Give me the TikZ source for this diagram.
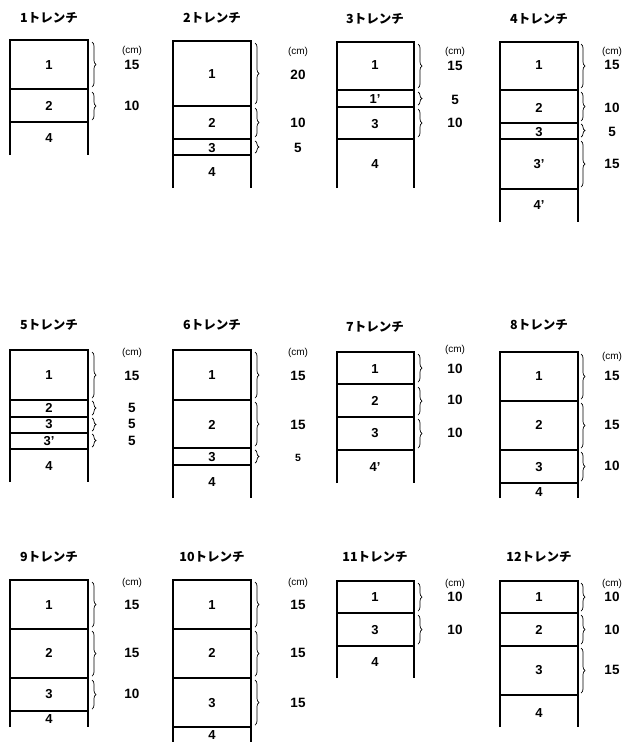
\documentclass[tikz,border=0pt]{standalone}
\usepackage{fontspec}
\setmainfont{Liberation Sans}
\newfontfamily\jpfont{Noto Sans CJK JP}
\usetikzlibrary{decorations.pathreplacing}
\tikzset{
  wall/.style={line width=1.5pt},
  lay/.style={font=\fontsize{13}{14}\selectfont\bfseries, inner sep=0pt},
  val/.style={font=\fontsize{13.5}{14}\selectfont\bfseries, inner sep=0pt},
  smallval/.style={font=\fontsize{10.5}{11}\selectfont\bfseries, inner sep=0pt},
  unit/.style={font=\fontsize{10}{11}\selectfont, inner sep=0pt},
  ttl/.style={font=\jpfont\fontsize{12.5}{13}\selectfont\bfseries, inner sep=0pt},
  br/.style={decorate, decoration={brace, amplitude=4pt}, line width=0.7pt}
}
\begin{document}
\begin{tikzpicture}[x=1pt,y=-1pt]
\useasboundingbox (0,0) rectangle (624,742);
% Trench 1
\node[ttl] (t1) at (49,18) {1トレンチ};
\draw[wall] (10,155) -- (10,40) -- (88,40) -- (88,155);
\foreach \y in {89,122} \draw[wall] (10,\y) -- (88,\y);
\foreach \y/\t [count=\i] in {65/1,106/2,138/4} \node[lay] (t1l\i) at (49,\y) {\t};
\foreach \a/\b in {42/87,92/120} \draw[br] (92,\a) -- (92,\b);
\node[unit] (t1u) at (132,51) {(cm)};
\foreach \y/\t [count=\i] in {65/15,106/10} \node[val] (t1v\i) at (132,\y) {\t};
% Trench 2
\node[ttl] (t2) at (212,18) {2トレンチ};
\draw[wall] (173,188) -- (173,41) -- (251,41) -- (251,188);
\foreach \y in {106,139,155} \draw[wall] (173,\y) -- (251,\y);
\foreach \y/\t [count=\i] in {74/1,123/2,148/3,172/4} \node[lay] (t2l\i) at (212,\y) {\t};
\foreach \a/\b in {43/104,108/137,141/153} \draw[br] (255,\a) -- (255,\b);
\node[unit] (t2u) at (298,52) {(cm)};
\foreach \y/\t [count=\i] in {75/20,123/10,148/5} \node[val] (t2v\i) at (298,\y) {\t};
% Trench 3
\node[ttl] (t3) at (375,19) {3トレンチ};
\draw[wall] (337,188) -- (337,42) -- (414,42) -- (414,188);
\foreach \y in {90,107,139} \draw[wall] (337,\y) -- (414,\y);
\foreach \y/\t [count=\i] in {65/1,99/1',124/3,164/4} \node[lay] (t3l\i) at (375,\y) {\t};
\foreach \a/\b in {44/88,92/105,109/137} \draw[br] (418,\a) -- (418,\b);
\node[unit] (t3u) at (455,52) {(cm)};
\foreach \y/\t [count=\i] in {66/15,100/5,123/10} \node[val] (t3v\i) at (455,\y) {\t};
% Trench 4
\node[ttl] (t4) at (539,19) {4トレンチ};
\draw[wall] (500,222) -- (500,42) -- (578,42) -- (578,222);
\foreach \y in {90,123,139,189} \draw[wall] (500,\y) -- (578,\y);
\foreach \y/\t [count=\i] in {65/1,108/2,132/3,164/3',205/4'} \node[lay] (t4l\i) at (539,\y) {\t};
\foreach \a/\b in {44/88,92/121,124/137,141/187} \draw[br] (581,\a) -- (581,\b);
\node[unit] (t4u) at (612,52) {(cm)};
\foreach \y/\t [count=\i] in {65/15,108/10,132/5,164/15} \node[val] (t4v\i) at (612,\y) {\t};
% Trench 5
\node[ttl] (t5) at (49,325) {5トレンチ};
\draw[wall] (10,482) -- (10,350) -- (88,350) -- (88,482);
\foreach \y in {400,417,433,449} \draw[wall] (10,\y) -- (88,\y);
\foreach \y/\t [count=\i] in {375/1,408/2,424/3,441/3',466/4} \node[lay] (t5l\i) at (49,\y) {\t};
\foreach \a/\b in {352/398,401/415,418/431,434/447} \draw[br] (92,\a) -- (92,\b);
\node[unit] (t5u) at (132,353) {(cm)};
\foreach \y/\t [count=\i] in {376/15,408/5,424/5,441/5} \node[val] (t5v\i) at (132,\y) {\t};
% Trench 6
\node[ttl] (t6) at (212,325) {6トレンチ};
\draw[wall] (173,498) -- (173,350) -- (251,350) -- (251,498);
\foreach \y in {400,448,465} \draw[wall] (173,\y) -- (251,\y);
\foreach \y/\t [count=\i] in {375/1,425/2,457/3,482/4} \node[lay] (t6l\i) at (212,\y) {\t};
\foreach \a/\b in {352/398,402/446,450/463} \draw[br] (255,\a) -- (255,\b);
\node[unit] (t6u) at (298,353) {(cm)};
\foreach \y/\t [count=\i] in {376/15,425/15} \node[val] (t6v\i) at (298,\y) {\t};
\node[smallval] (t6v3) at (298,458) {5};
% Trench 7
\node[ttl] (t7) at (375,327) {7トレンチ};
\draw[wall] (337,483) -- (337,352) -- (414,352) -- (414,483);
\foreach \y in {384,417,450} \draw[wall] (337,\y) -- (414,\y);
\foreach \y/\t [count=\i] in {369/1,401/2,433/3,467/4'} \node[lay] (t7l\i) at (375,\y) {\t};
\foreach \a/\b in {354/382,387/415,419/448} \draw[br] (418,\a) -- (418,\b);
\node[unit] (t7u) at (455,350) {(cm)};
\foreach \y/\t [count=\i] in {369/10,400/10,433/10} \node[val] (t7v\i) at (455,\y) {\t};
% Trench 8
\node[ttl] (t8) at (539,325) {8トレンチ};
\draw[wall] (500,498) -- (500,352) -- (578,352) -- (578,498);
\foreach \y in {401,450,483} \draw[wall] (500,\y) -- (578,\y);
\foreach \y/\t [count=\i] in {376/1,425/2,467/3,492/4} \node[lay] (t8l\i) at (539,\y) {\t};
\foreach \a/\b in {354/399,403/448,452/481} \draw[br] (581,\a) -- (581,\b);
\node[unit] (t8u) at (612,357) {(cm)};
\foreach \y/\t [count=\i] in {376/15,425/15,466/10} \node[val] (t8v\i) at (612,\y) {\t};
% Trench 9
\node[ttl] (t9) at (49,557) {9トレンチ};
\draw[wall] (10,727) -- (10,580) -- (88,580) -- (88,727);
\foreach \y in {629,678,711} \draw[wall] (10,\y) -- (88,\y);
\foreach \y/\t [count=\i] in {605/1,653/2,694/3,719/4} \node[lay] (t9l\i) at (49,\y) {\t};
\foreach \a/\b in {582/627,631/676,680/709} \draw[br] (92,\a) -- (92,\b);
\node[unit] (t9u) at (132,583) {(cm)};
\foreach \y/\t [count=\i] in {605/15,653/15,694/10} \node[val] (t9v\i) at (132,\y) {\t};
% Trench 10
\node[ttl] (t10) at (212,557) {10トレンチ};
\draw[wall] (173,742) -- (173,580) -- (251,580) -- (251,742);
\foreach \y in {629,678,727} \draw[wall] (173,\y) -- (251,\y);
\foreach \y/\t [count=\i] in {605/1,653/2,703/3,735/4} \node[lay] (t10l\i) at (212,\y) {\t};
\foreach \a/\b in {582/627,631/676,680/725} \draw[br] (255,\a) -- (255,\b);
\node[unit] (t10u) at (298,583) {(cm)};
\foreach \y/\t [count=\i] in {605/15,653/15,703/15} \node[val] (t10v\i) at (298,\y) {\t};
% Trench 11
\node[ttl] (t11) at (375,557) {11トレンチ};
\draw[wall] (337,678) -- (337,581) -- (414,581) -- (414,678);
\foreach \y in {613,646} \draw[wall] (337,\y) -- (414,\y);
\foreach \y/\t [count=\i] in {597/1,630/3,662/4} \node[lay] (t11l\i) at (375,\y) {\t};
\foreach \a/\b in {583/611,615/644} \draw[br] (418,\a) -- (418,\b);
\node[unit] (t11u) at (455,584) {(cm)};
\foreach \y/\t [count=\i] in {597/10,630/10} \node[val] (t11v\i) at (455,\y) {\t};
% Trench 12
\node[ttl] (t12) at (539,557) {12トレンチ};
\draw[wall] (500,727) -- (500,581) -- (578,581) -- (578,727);
\foreach \y in {613,646,695} \draw[wall] (500,\y) -- (578,\y);
\foreach \y/\t [count=\i] in {597/1,630/2,670/3,713/4} \node[lay] (t12l\i) at (539,\y) {\t};
\foreach \a/\b in {583/611,615/644,648/693} \draw[br] (581,\a) -- (581,\b);
\node[unit] (t12u) at (612,584) {(cm)};
\foreach \y/\t [count=\i] in {597/10,630/10,670/15} \node[val] (t12v\i) at (612,\y) {\t};
\end{tikzpicture}
\end{document}
